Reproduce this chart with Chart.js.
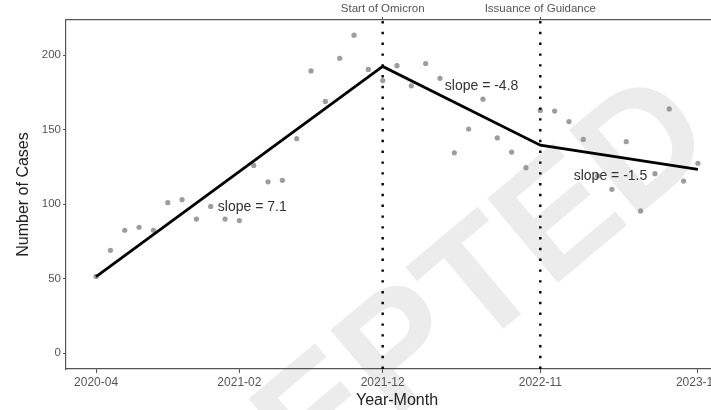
<!DOCTYPE html>
<html>
<head>
<meta charset="utf-8">
<script src="https://cdn.jsdelivr.net/npm/chart.js@4.4.1/dist/chart.umd.min.js"></script>
<style>
  html, body { margin: 0; padding: 0; background: #fff; overflow: hidden; width: 711px; height: 410px; }
  #wrap { width: 745px; height: 410px; }
</style>
</head>
<body>
<div id="wrap"><canvas id="casesChart" width="745" height="410"></canvas></div>
<script>
// month index 0 = 2020-04 ... 42 = 2023-10
const monthIndex = [0, 1, 2, 3, 4, 5, 6, 7, 8, 9, 10, 11, 12, 13, 14, 15, 16, 17, 18, 19, 20,
  21, 22, 23, 24, 25, 26, 27, 28, 29, 30, 31, 32, 33, 34, 35, 36, 37, 38, 39, 40, 41, 42];
const caseCounts = [51.5, 69, 82.5, 84.5, 82.5, 101, 103, 90, 98.5, 90, 89, 126, 115, 116, 144,
  189.5, 169, 198, 213.5, 190.5, 183, 193, 179.5, 194.5, 184.5, 134.5, 150.5, 170.5, 144.5, 135,
  124.5, 163, 162.5, 155.5, 143.5, 119, 110, 142, 95.5, 120.5, 164, 115.5, 127.5];

// segmented regression fit
const fitMonths = [0, 20, 31, 42];
const fitValues = [51.3, 192.5, 139.6, 123.3];

// axis ticks
const tickMonths = [0, 10, 20, 31, 42];
const tickLabels = ['2020-04', '2021-02', '2021-12', '2022-11', '2023-10'];
const yTicks = [0, 50, 100, 150, 200];

// events
const eventMonths = [20, 31];
const eventLabels = ['Start of Omicron', 'Issuance of Guidance'];

// slope annotations
const slopeTexts = ['slope = 7.1', 'slope = -4.8', 'slope = -1.5'];
const slopeAt = [[10.9, 98.3], [26.9, 179.3], [35.9, 119.1]];

const yMin = -10.7, yMax = 223.7;
const xMin = -2.1, xMax = 44.1;
const FONT = '"Liberation Sans", Arial, sans-serif';

const scatterData = monthIndex.map((m, i) => ({ x: m, y: caseCounts[i] }));
const fitData = fitMonths.map((m, i) => ({ x: m, y: fitValues[i] }));
const eventSets = eventMonths.map(m => ({
  type: 'line',
  data: [{ x: m, y: yMin }, { x: m, y: yMax }],
  borderColor: '#000',
  borderWidth: 2.4,
  borderDash: [2.4, 8.4],
  pointRadius: 0,
  order: 2
}));

// watermark and slope labels
const extrasPlugin = {
  id: 'extras',
  beforeDraw(chart) {
    const ctx = chart.ctx;
    ctx.save();
    ctx.translate(720, 147);
    ctx.rotate(-40 * Math.PI / 180);
    ctx.font = 'bold 160px ' + FONT;
    ctx.fillStyle = '#ececec';
    ctx.textAlign = 'right';
    ctx.textBaseline = 'alphabetic';
    ctx.fillText('ACCEPTED', 0, 0);
    ctx.restore();
  },
  afterDatasetsDraw(chart) {
    const ctx = chart.ctx;
    const xs = chart.scales.x, ys = chart.scales.y;
    ctx.save();
    ctx.font = '14px ' + FONT;
    ctx.fillStyle = '#333';
    ctx.textAlign = 'center';
    ctx.textBaseline = 'middle';
    slopeTexts.forEach((t, i) => {
      ctx.fillText(t, xs.getPixelForValue(slopeAt[i][0]), ys.getPixelForValue(slopeAt[i][1]));
    });
    ctx.restore();
  }
};

new Chart(document.getElementById('casesChart').getContext('2d'), {
  type: 'scatter',
  data: {
    datasets: [
      {
        data: scatterData,
        backgroundColor: 'rgba(140,140,140,0.85)',
        borderWidth: 0,
        pointRadius: 2.6,
        order: 3
      },
      {
        type: 'line',
        data: fitData,
        borderColor: '#000',
        borderWidth: 2.8,
        pointRadius: 0,
        tension: 0,
        order: 1
      },
      ...eventSets
    ]
  },
  options: {
    responsive: false,
    animation: false,
    layout: { padding: { left: 0, right: 17, top: 0, bottom: 0 } },
    plugins: { legend: { display: false }, tooltip: { enabled: false } },
    scales: {
      x: {
        type: 'linear',
        position: 'bottom',
        min: xMin,
        max: xMax,
        afterBuildTicks: s => { s.ticks = tickMonths.map(v => ({ value: v })); },
        afterFit: s => { s.height = 41; },
        ticks: {
          callback: v => tickLabels[tickMonths.indexOf(v)],
          color: '#555',
          font: { family: FONT, size: 12 },
          padding: 2,
          maxRotation: 0,
          autoSkip: false
        },
        grid: { drawOnChartArea: false, tickLength: 4, color: '#555', tickWidth: 1 },
        border: { color: '#555', width: 1.2 },
        title: { display: true, text: 'Year-Month', color: '#222', font: { family: FONT, size: 16 }, padding: { top: 0, bottom: 0 } }
      },
      x2: {
        type: 'linear',
        position: 'top',
        min: xMin,
        max: xMax,
        afterBuildTicks: s => { s.ticks = eventMonths.map(v => ({ value: v })); },
        afterFit: s => { s.height = 20; },
        ticks: {
          callback: v => eventLabels[eventMonths.indexOf(v)],
          color: '#555',
          font: { family: FONT, size: 11.5 },
          padding: 1,
          maxRotation: 0,
          autoSkip: false
        },
        grid: { drawOnChartArea: false, tickLength: 3, color: '#555' },
        border: { color: '#555', width: 1.2 }
      },
      y: {
        min: yMin,
        max: yMax,
        afterBuildTicks: s => { s.ticks = yTicks.map(v => ({ value: v })); },
        afterFit: s => { s.width = 66; },
        ticks: { color: '#555', font: { family: FONT, size: 11.5 }, padding: 2 },
        grid: { drawOnChartArea: false, tickLength: 3, color: '#555' },
        border: { color: '#555', width: 1.2 },
        title: { display: true, text: 'Number of Cases', color: '#222', font: { family: FONT, size: 16 }, padding: { top: 14, bottom: 0 } }
      }
    }
  },
  plugins: [extrasPlugin]
});
</script>
</body>
</html>
